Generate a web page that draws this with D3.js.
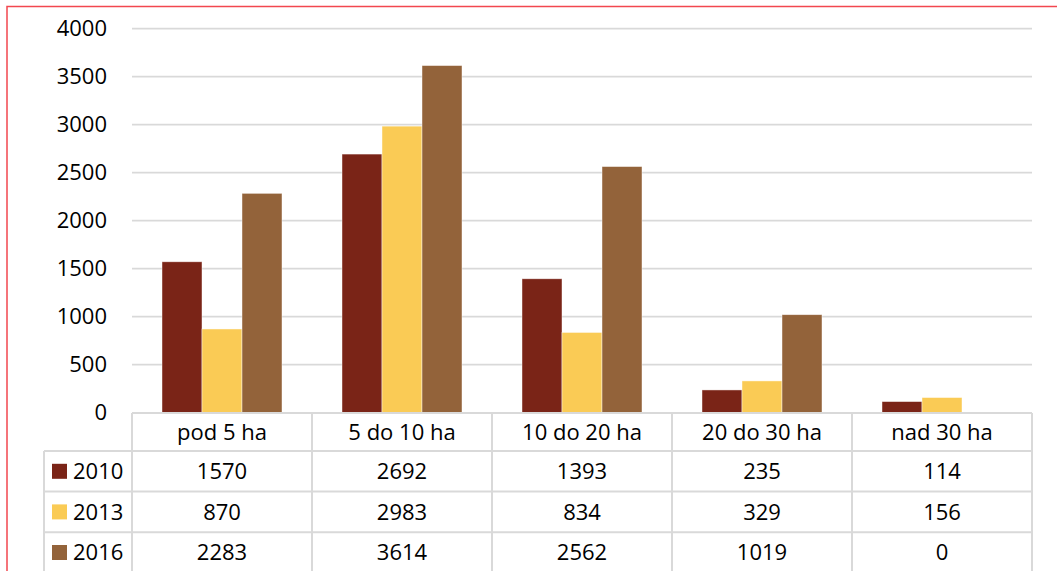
<!DOCTYPE html>
<html>
<head>
<meta charset="utf-8">
<script src="https://cdn.jsdelivr.net/npm/d3@7"></script>
<style>
  html, body { margin: 0; padding: 0; background: #fff; }
  svg { display: block; }
  text { font-family: "Open Sans", "Noto Sans", sans-serif; fill: #000; }
</style>
</head>
<body>
<svg id="chart" width="1057" height="571"></svg>
<script>
// Farm counts by size class, three survey years
const categories = ["pod 5 ha", "5 do 10 ha", "10 do 20 ha", "20 do 30 ha", "nad 30 ha"];
const years = ["2010", "2013", "2016"];
const values2010 = [1570, 2692, 1393, 235, 114];
const values2013 = [870, 2983, 834, 329, 156];
const values2016 = [2283, 3614, 2562, 1019, 0];
const yTicks = [0, 500, 1000, 1500, 2000, 2500, 3000, 3500, 4000];
const colors = ["#7a2417", "#facb55", "#93633a"];

const series = [values2010, values2013, values2016];

const svg = d3.select("#chart");
const W = 1057, H = 571;
const fontSize = 22;

const plot = { left: 132, right: 1032, top: 28.5, bottom: 412.5 };
const tableTop = 413, headerH = 38, rowH = 40.6, legendLeft = 44;

const x = d3.scaleBand().domain(categories).range([plot.left, plot.right]).padding(0);
const xInner = d3.scaleBand().domain(years).range([30, x.bandwidth() - 30]).padding(0);
const y = d3.scaleLinear().domain([0, 4000]).range([plot.bottom, plot.top]);

// outer frame
svg.append("rect")
  .attr("x", 7).attr("y", 6.5)
  .attr("width", W + 20).attr("height", H + 20)
  .attr("fill", "none").attr("stroke", "#f2474f").attr("stroke-width", 1.5);

// gridlines
svg.append("g").selectAll("line")
  .data(yTicks.filter(t => t > 0))
  .join("line")
  .attr("x1", plot.left).attr("x2", plot.right)
  .attr("y1", d => y(d)).attr("y2", d => y(d))
  .attr("stroke", "#d9d9d9").attr("stroke-width", 1.75);

// y axis labels
const yAxis = d3.axisLeft(y).tickValues(yTicks).tickFormat(d3.format("d")).tickSize(0).tickPadding(0);
const yg = svg.append("g").attr("transform", `translate(107,0)`).call(yAxis);
yg.select(".domain").remove();
yg.selectAll("text")
  .attr("font-size", fontSize)
  .attr("font-family", "'Open Sans', sans-serif")
  .attr("fill", "#000");

// bars
const groups = svg.append("g").selectAll("g")
  .data(categories)
  .join("g")
  .attr("transform", d => `translate(${x(d)},0)`);

groups.selectAll("rect")
  .data((c, i) => years.map((yr, s) => ({ yr, s, v: series[s][i] })))
  .join("rect")
  .attr("x", d => xInner(d.yr))
  .attr("width", xInner.bandwidth())
  .attr("y", d => y(d.v))
  .attr("height", d => y(0) - y(d.v))
  .attr("fill", d => colors[d.s])
  .attr("stroke", "#ffffff")
  .attr("stroke-opacity", d => d.v > 0 ? 0.6 : 0)
  .attr("stroke-width", 0.75);

// data table
const tg = svg.append("g");
const lineColor = "#d9d9d9";
const rowY = i => tableTop + headerH + i * rowH;
const tableBottom = rowY(3) + rowH;

// horizontal rules
tg.append("line")
  .attr("x1", plot.left).attr("x2", plot.right)
  .attr("y1", tableTop).attr("y2", tableTop)
  .attr("stroke", lineColor).attr("stroke-width", 2);
[0, 1, 2, 3].forEach(i => {
  tg.append("line")
    .attr("x1", legendLeft).attr("x2", plot.right)
    .attr("y1", rowY(i)).attr("y2", rowY(i))
    .attr("stroke", lineColor).attr("stroke-width", 2);
});

// vertical rules
tg.append("line")
  .attr("x1", legendLeft).attr("x2", legendLeft)
  .attr("y1", rowY(0)).attr("y2", tableBottom)
  .attr("stroke", lineColor).attr("stroke-width", 2);
categories.concat([null]).forEach((c, i) => {
  const xx = c ? x(c) : plot.right;
  tg.append("line")
    .attr("x1", xx).attr("x2", xx)
    .attr("y1", tableTop).attr("y2", tableBottom)
    .attr("stroke", lineColor).attr("stroke-width", 2);
});

// header labels
tg.selectAll("text.hdr")
  .data(categories)
  .join("text")
  .attr("class", "hdr")
  .attr("x", d => x(d) + x.bandwidth() / 2)
  .attr("y", tableTop + headerH / 2)
  .attr("dy", "0.35em")
  .attr("text-anchor", "middle")
  .attr("font-size", fontSize)
  .text(d => d);

// rows: legend key, year, values
years.forEach((yr, s) => {
  const cy = rowY(s) + rowH / 2;
  tg.append("rect")
    .attr("x", 52).attr("y", cy - 7.5)
    .attr("width", 15).attr("height", 15)
    .attr("fill", colors[s]);
  tg.append("text")
    .attr("x", 73).attr("y", cy)
    .attr("dy", "0.35em")
    .attr("font-size", fontSize)
    .text(yr);
  tg.selectAll(null)
    .data(series[s])
    .join("text")
    .attr("x", (d, i) => x(categories[i]) + x.bandwidth() / 2)
    .attr("y", cy)
    .attr("dy", "0.35em")
    .attr("text-anchor", "middle")
    .attr("font-size", fontSize)
    .text(d => d);
});
</script>
</body>
</html>
